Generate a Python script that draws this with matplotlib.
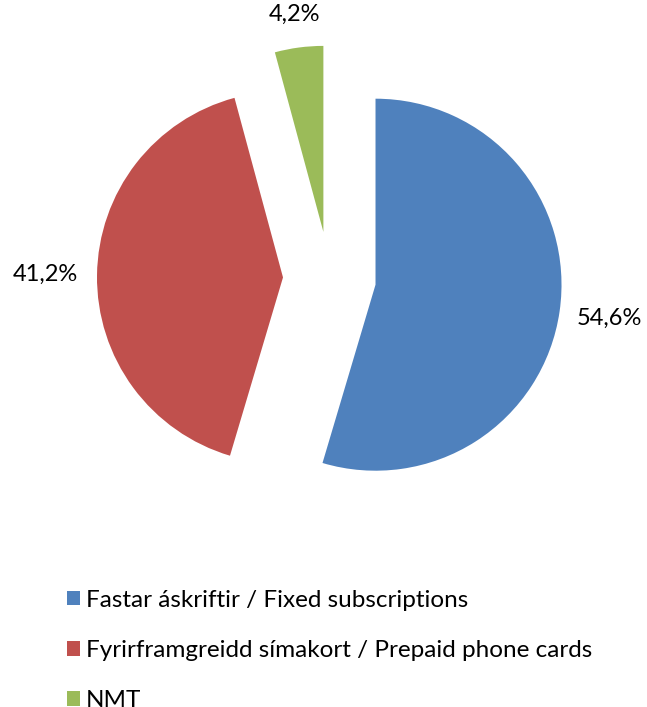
import matplotlib
matplotlib.use("Agg")
import numpy as np
import matplotlib.pyplot as plt
from matplotlib.patches import Patch

# data
labels = ["Fastar áskriftir / Fixed subscriptions",
          "Fyrirframgreidd símakort / Prepaid phone cards",
          "NMT"]
shares = [54.6, 41.2, 4.2]
colors = ["#4F81BD", "#C0504D", "#9BBB59"]

plt.rcParams["font.family"] = ["Lato", "DejaVu Sans"]

W, H = 647, 707
R = 186.0  # pie radius in px
cx, cy = 329.5, 278.0  # pie centre in px (from top-left)

fig = plt.figure(figsize=(W / 100, H / 100), dpi=100)
ax = fig.add_axes([0, 0, 1, 1])

wedges, _ = ax.pie(shares, colors=colors, startangle=90, counterclock=False,
                   explode=[0.25, 0.25, 0.25])

# percentage labels outside each wedge
dists = [1.27, 1.28, 1.18]
for w, v, d in zip(wedges, shares, dists):
    ang = np.deg2rad((w.theta1 + w.theta2) / 2)
    x0, y0 = w.center
    ax.text(x0 + d * np.cos(ang), y0 + d * np.sin(ang), f"{v:.1f}%".replace(".", ","),
            ha="center", va="center", fontsize=17, color="#000000")

ax.set_aspect("auto")
ax.set_xlim(-cx / R, (W - cx) / R)
ax.set_ylim(-(H - cy) / R, cy / R)
ax.axis("off")

handles = [Patch(facecolor=c, edgecolor="none") for c in colors]
leg = fig.legend(handles, labels, loc="upper left", bbox_to_anchor=(57 / W, 1 - 580 / H),
                 frameon=False, fontsize=17.5, handlelength=0.55, handleheight=0.55,
                 handletextpad=0.25, labelspacing=1.2, borderaxespad=0)

fig.savefig("out.png", dpi=100)
